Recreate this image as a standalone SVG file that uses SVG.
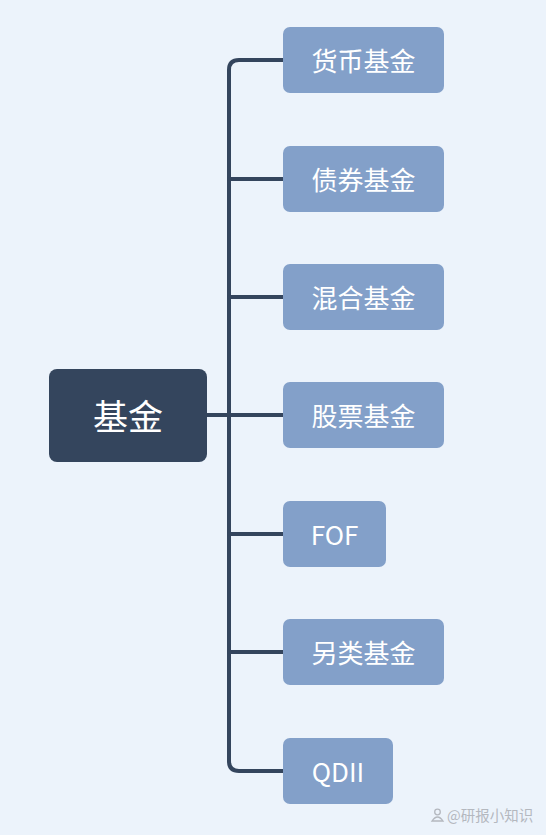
<svg xmlns="http://www.w3.org/2000/svg" width="546" height="835" viewBox="0 0 546 835">
<style>
.bg{fill:#ecf3fb}
.root{fill:#34455d}
.child{fill:#83a0c9}
.rt{fill:#ffffff;font-family:"Noto Sans CJK SC","Noto Sans",sans-serif;font-size:35px;text-anchor:middle;dominant-baseline:central}
.ct{fill:#ffffff;font-family:"Noto Sans CJK SC","Noto Sans",sans-serif;font-size:26px;text-anchor:middle;dominant-baseline:central}
.link{fill:none;stroke:#34455d;stroke-width:4;stroke-linecap:round}
.wm{fill:#b4b8bf;font-family:"Noto Sans CJK SC","Noto Sans",sans-serif;font-size:14.5px}
</style>
<rect class="bg" x="0" y="0" width="546" height="835"/>
<g id="connectors">
<path class="link" d="M283 60 H239 Q229 60 229 70 V761 Q229 771 239 771 H283"/>
<path class="link" d="M229 179 H283 M229 297 H283 M207 415 H283 M229 534 H283 M229 652 H283"/>
</g>
<g id="node-root">
<rect class="root" x="49" y="369" width="158" height="93" rx="8"/>
<text class="rt" x="128" y="414">基金</text>
</g>
<g id="node-1">
<rect class="child" x="283" y="27" width="161" height="66" rx="7"/>
<text class="ct" x="363.5" y="59">货币基金</text>
</g>
<g id="node-2">
<rect class="child" x="283" y="146" width="161" height="66" rx="7"/>
<text class="ct" x="363.5" y="178">债券基金</text>
</g>
<g id="node-3">
<rect class="child" x="283" y="264" width="161" height="66" rx="7"/>
<text class="ct" x="363.5" y="296">混合基金</text>
</g>
<g id="node-4">
<rect class="child" x="283" y="382" width="161" height="66" rx="7"/>
<text class="ct" x="363.5" y="414">股票基金</text>
</g>
<g id="node-5">
<rect class="child" x="283" y="501" width="103" height="66" rx="7"/>
<text class="ct" x="334.5" y="533">FOF</text>
</g>
<g id="node-6">
<rect class="child" x="283" y="619" width="161" height="66" rx="7"/>
<text class="ct" x="363.5" y="651">另类基金</text>
</g>
<g id="node-7">
<rect class="child" x="283" y="738" width="110" height="66" rx="7"/>
<text class="ct" x="338" y="770">QDII</text>
</g>
<g id="watermark">
<circle cx="437.5" cy="812" r="2.8" fill="none" stroke="#b4b8bf" stroke-width="1.3"/>
<path d="M432 821 Q437.5 813 443 821 Z" fill="none" stroke="#b4b8bf" stroke-width="1.3"/>
<text class="wm" x="447" y="821">@研报小知识</text>
</g>
</svg>
